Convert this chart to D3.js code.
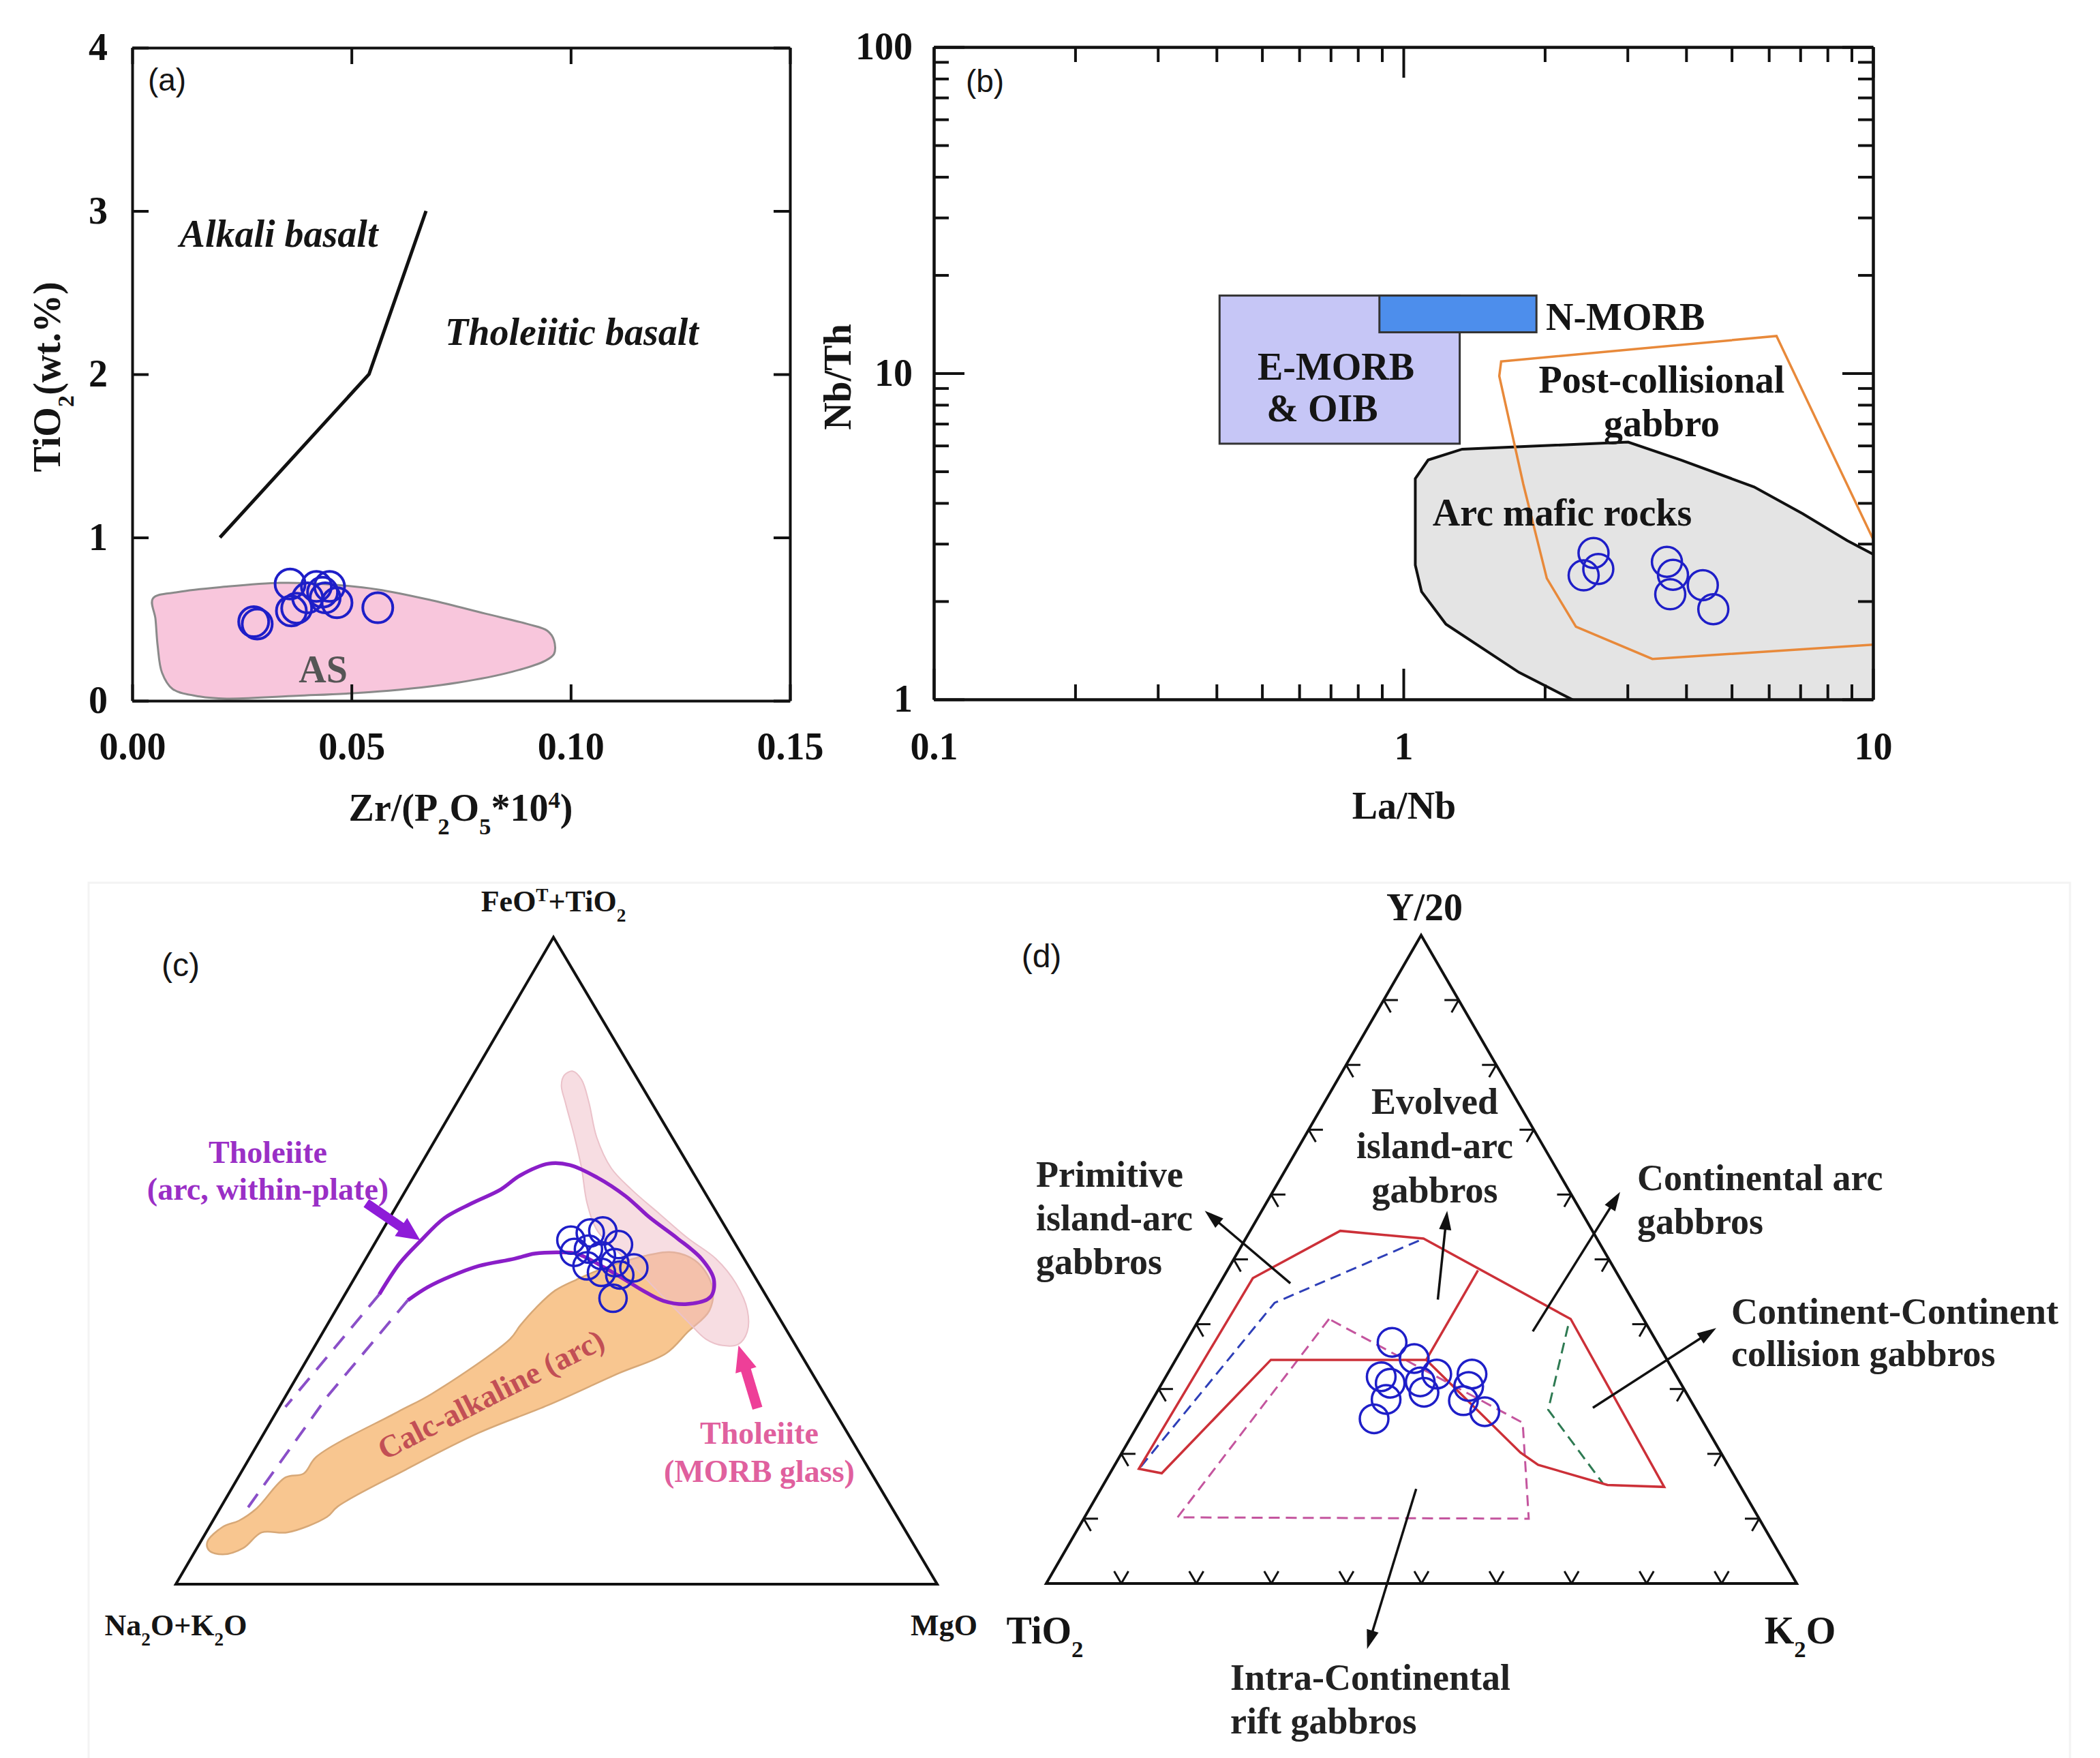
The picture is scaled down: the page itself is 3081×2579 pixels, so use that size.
<!DOCTYPE html>
<html><head><meta charset="utf-8">
<script src="https://cdn.jsdelivr.net/npm/d3@7"></script>
<style>body{margin:0;background:#fff} svg{display:block}</style>
</head><body>
<svg id="chart" width="3081" height="2579"></svg>
<script>
// ---------------- DATA ----------------
// (a) TiO2 vs Zr/(P2O5*10^4)
const aXTicks = [0, 0.05, 0.10, 0.15];
const aYTicks = [0, 1, 2, 3, 4];
const aDivide = [[0.020, 1.0], [0.054, 2.0], [0.067, 3.0]];
const aAS = [[0.0047,0.626],[0.0105,0.666],[0.0215,0.699],[0.0338,0.722],[0.0437,0.715],[0.0559,0.682],
  [0.0682,0.616],[0.0805,0.534],[0.0904,0.468],[0.0947,0.428],[0.0962,0.369],[0.0962,0.287],[0.0941,0.244],
  [0.0867,0.178],[0.0744,0.112],[0.0559,0.056],[0.0375,0.030],[0.0215,0.013],[0.0154,0.026],[0.0092,0.072],
  [0.0068,0.171],[0.0058,0.336],[0.0053,0.501]];
const aSamples = [[0.0277,0.484],[0.0285,0.470],[0.0360,0.715],[0.0363,0.550],[0.0375,0.567],[0.0400,0.630],
  [0.0420,0.700],[0.0434,0.665],[0.0450,0.700],[0.0440,0.630],[0.0467,0.600],[0.0560,0.570]];

// (b) Nb/Th vs La/Nb (log-log)
const bMajorX = [0.1, 1, 10];
const bMinorX = [0.2,0.3,0.4,0.5,0.6,0.7,0.8,0.9,2,3,4,5,6,7,8,9];
const bMajorY = [1, 10, 100];
const bMinorY = [2,3,4,5,6,7,8,9,20,30,40,50,60,70,80,90];
const bEMORB = [[0.406, 6.08], [1.318, 17.3]];
const bNMORB = [[0.889, 13.35], [1.92, 17.3]];
const bPostColl = [[1.615,10.87],[6.23,13.0],[10.6,2.6],[10.6,1.48],[3.39,1.33],[2.33,1.67],[2.02,2.35],[1.80,4.57],[1.60,9.8]];
const bArc = [[2.45,0.95],[1.762,1.21],[1.232,1.70],[1.093,2.14],[1.06,2.58],[1.06,4.75],[1.129,5.42],[1.334,5.85],
  [3.01,6.15],[3.9,5.42],[5.58,4.48],[7.08,3.71],[8.81,3.07],[10.8,2.63],[10.8,0.9],[2.45,0.9]];
const bSamples = [[2.54,2.81],[2.60,2.51],[2.42,2.40],[3.64,2.64],[3.75,2.41],[3.70,2.10],[4.34,2.24],[4.57,1.89]];

// (c) ternary: [FeOT+TiO2 %, MgO %]; Na2O+K2O = 100 - both
const cMORB = [[78.7,12.0],[79.3,12.8],[78.0,14.6],[74.5,17.3],[69.1,21.0],[64.3,25.3],[61.0,29.6],[57.2,35.2],
  [53.5,40.7],[50.3,46.0],[46.5,50.5],[42.3,54.1],[39.0,55.7],[37.1,55.5],[36.9,53.5],[37.9,50.8],[40.6,47.1],
  [44.4,42.0],[48.2,37.0],[51.3,32.7],[54.6,28.3],[58.9,24.8],[64.3,21.4],[69.1,18.1],[74.5,14.2],[77.1,12.4]];
const cCalc = [[6.5,0.9],[8.9,1.8],[9.8,3.4],[11.7,4.8],[16.5,6.2],[17.1,8.3],[19.7,8.7],[26.6,15.9],[29.4,19.0],
  [37.9,25.1],[40.0,25.4],[42.7,26.1],[45.4,27.3],[47.1,29.3],[48.7,31.7],[50.8,36.6],[51.3,40.0],[49.7,43.9],
  [45.9,47.7],[42.3,49.1],[39.0,47.9],[35.7,46.7],[32.6,42.0],[27.7,35.2],[23.4,28.2],[17.7,21.4],[12.0,15.3],
  [10.4,14.7],[8.0,10.7],[8.0,7.3],[5.6,6.1],[4.6,3.9],[5.2,1.8]];
const cThol = [[44.8,4.5],[49.6,4.8],[53.0,5.8],[56.6,7.2],[58.9,9.7],[61.0,12.4],[63.2,13.9],[65.0,16.7],
  [64.8,19.6],[62.9,24.1],[60.0,29.3],[56.7,34.1],[53.5,39.3],[50.3,44.1],[47.1,47.3],[44.4,48.2],[43.3,45.7],
  [43.8,42.3],[45.4,38.8],[47.1,35.6],[49.2,31.5],[51.1,27.3],[51.3,24.9],[51.1,21.8],[50.3,19.5],[49.2,15.4],
  [47.6,12.5],[45.9,10.3],[43.9,8.7]];
const cTholDashUpper = [[44.8,4.5],[27.4,0.8]];
const cTholDashLower = [[43.9,8.7],[29.0,5.5],[11.0,3.5]];
const cArrowThol = [[58.9,-4.2],[53.2,5.7]];
const cArrowMORB = [[27.2,62.9],[36.9,55.6]];
const cSamples = [[53.2,25.5],[54.3,27.5],[54.6,29.0],[52.5,32.1],[51.3,26.9],[51.8,28.5],[50.8,30.7],
  [49.7,33.0],[48.9,35.9],[49.2,29.6],[48.2,32.0],[47.8,34.6],[44.2,35.5]];

// (d) ternary: [Y/20 %, K2O %]; TiO2 = 100 - both
const dTicks = [10,20,30,40,50,60,70,80,90];
const dOuter = [[17.7,3.5],[47.1,4.0],[54.4,12.0],[53.2,23.7],[40.8,49.5],[14.9,74.9],[15.2,67.2],[18.3,56.4],
  [20.2,53.1],[34.5,33.4],[34.5,12.7],[17.0,6.9]];
const dInner = [[48.3,33.4],[34.5,33.4]];
const dPrimitive = [[18.0,3.6],[43.3,8.8],[53.2,23.7]];
const dCollision = [[39.7,49.7],[26.8,53.5],[15.5,66.4]];
const dRift = [[40.8,17.3],[10.2,12.4],[10.0,59.3],[24.8,51.1],[25.7,49.2]];
const dSamples = [[37.2,27.5],[34.7,31.7],[31.9,28.7],[30.9,30.4],[31.1,34.3],[32.3,35.9],[29.5,35.6],
  [32.3,40.6],[30.4,41.1],[28.2,41.5],[26.5,45.2],[28.4,31.1],[25.4,31.0]];
const dArrows = [
  [[46.3,9.4],[57.5,-7.6]],
  [[43.8,30.3],[57.5,24.7]],
  [[38.9,45.4],[60.4,46.3]],
  [[27.1,59.3],[39.4,69.6]],
  [[14.6,42.0],[-10.1,47.8]]
];

// ---------------- RENDER ----------------
const svg = d3.select("#chart");
svg.append("rect").attr("width",3081).attr("height",2579).attr("fill","#fff");
// faint frame around the lower pair of panels
svg.append("rect").attr("x",130).attr("y",1295).attr("width",2907).attr("height",1320)
  .attr("fill","none").attr("stroke","#f3f3f3").attr("stroke-width",3);
const SERIF = "'Liberation Serif','Times New Roman',serif";
const SANS = "'Liberation Sans',Arial,sans-serif";
const PT = "#1e1ec8";

function label(g, x, y, parts, o = {}) {
  const t = g.append("text").attr("x", x).attr("y", y).attr("dy", "0.35em")
    .attr("font-family", o.family || SERIF).attr("font-size", o.size || 56)
    .attr("font-weight", o.weight || "bold").attr("font-style", o.style || "normal")
    .attr("fill", o.color || "#151515").attr("text-anchor", o.anchor || "middle");
  if (o.rotate != null) t.attr("transform", `rotate(${o.rotate},${x},${y})`);
  (typeof parts === "string" ? [[parts, ""]] : parts).forEach(([s, k]) => {
    const sp = t.append("tspan").text(s);
    if (k === "sub") sp.attr("baseline-shift", "sub").attr("font-size", "62%");
    if (k === "sup") sp.attr("baseline-shift", "super").attr("font-size", "62%");
  });
  return t;
}
function arrow(g, p0, p1, o) {
  const dx = p1[0]-p0[0], dy = p1[1]-p0[1], L = Math.hypot(dx, dy), ux = dx/L, uy = dy/L;
  const bx = p1[0]-ux*o.head, by = p1[1]-uy*o.head;
  g.append("line").attr("x1", p0[0]).attr("y1", p0[1]).attr("x2", bx+ux*2).attr("y2", by+uy*2)
    .attr("stroke", o.color).attr("stroke-width", o.shaft);
  g.append("path").attr("d", `M${p1[0]},${p1[1]}L${bx-uy*o.hw},${by+ux*o.hw}L${bx+uy*o.hw},${by-ux*o.hw}Z`)
    .attr("fill", o.color);
}
function styleAxis(g, size) {
  g.selectAll("path.domain").attr("stroke", "#111").attr("stroke-width", 4);
  g.selectAll(".tick line").attr("stroke", "#111").attr("stroke-width", 4);
  g.attr("font-family", SERIF).attr("font-size", size || 56).attr("font-weight", "bold");
  g.selectAll(".tick text").attr("fill", "#111");
}

// ===== Panel (a) =====
const gA = svg.append("g");
const ax = d3.scaleLinear([0, 0.15], [194, 1159]);
const ay = d3.scaleLinear([0, 4], [1028, 70]);
gA.append("path").datum(aAS)
  .attr("d", d3.line().x(d => ax(d[0])).y(d => ay(d[1])).curve(d3.curveCatmullRomClosed.alpha(0.5)))
  .attr("fill", "#f8c6dc").attr("stroke", "#8a8a8a").attr("stroke-width", 3);
gA.append("path").datum(aDivide)
  .attr("d", d3.line().x(d => ax(d[0])).y(d => ay(d[1])))
  .attr("fill", "none").attr("stroke", "#111").attr("stroke-width", 5);
gA.selectAll("circle").data(aSamples).join("circle")
  .attr("cx", d => ax(d[0])).attr("cy", d => ay(d[1])).attr("r", 22)
  .attr("fill", "none").attr("stroke", PT).attr("stroke-width", 4);
styleAxis(gA.append("g").attr("transform", "translate(0,1028)")
  .call(d3.axisBottom(ax).tickValues(aXTicks).tickFormat(d3.format(".2f")).tickSize(-24).tickSizeOuter(0).tickPadding(46)));
styleAxis(gA.append("g").attr("transform", "translate(0,70)")
  .call(d3.axisTop(ax).tickValues(aXTicks).tickFormat("").tickSize(-24).tickSizeOuter(0)));
styleAxis(gA.append("g").attr("transform", "translate(194,0)")
  .call(d3.axisLeft(ay).tickValues(aYTicks).tickFormat(d3.format("d")).tickSize(-24).tickSizeOuter(0).tickPadding(36)));
styleAxis(gA.append("g").attr("transform", "translate(1159,0)")
  .call(d3.axisRight(ay).tickValues(aYTicks).tickFormat("").tickSize(-24).tickSizeOuter(0)));
label(gA, 245, 117, "(a)", {family: SANS, weight: "normal", size: 46});
label(gA, 409, 342, "Alkali basalt", {style: "italic"});
label(gA, 839, 486, "Tholeiitic basalt", {style: "italic"});
label(gA, 474, 981, "AS", {color: "#555"});
label(gA, 676, 1184, [["Zr/(P",""],["2","sub"],["O",""],["5","sub"],["*10",""],["4","sup"],[")",""]]);
label(gA, 68, 553, [["TiO",""],["2","sub"],["(wt.%)",""]], {rotate: -90});

// ===== Panel (b) =====
const gB = svg.append("g");
const bx = d3.scaleLog([0.1, 10], [1370, 2748]);
const by = d3.scaleLog([1, 100], [1026, 69]);
svg.append("defs").append("clipPath").attr("id", "clipB").append("rect")
  .attr("x", 1370).attr("y", 69).attr("width", 2748-1370).attr("height", 1026-69);
const gBc = gB.append("g").attr("clip-path", "url(#clipB)");
const lineB = d3.line().x(d => bx(d[0])).y(d => by(d[1]));
gBc.append("path").datum(bArc).attr("d", lineB.curve(d3.curveLinearClosed))
  .attr("fill", "#e4e4e4").attr("stroke", "#111").attr("stroke-width", 4);
gBc.append("path").datum(bPostColl).attr("d", lineB.curve(d3.curveLinearClosed))
  .attr("fill", "none").attr("stroke", "#e8893a").attr("stroke-width", 3.5);
[[bEMORB, "#c6c6f6"], [bNMORB, "#4d8eec"]].forEach(([r, c]) => {
  gBc.append("rect").attr("x", bx(r[0][0])).attr("y", by(r[1][1]))
    .attr("width", bx(r[1][0]) - bx(r[0][0])).attr("height", by(r[0][1]) - by(r[1][1]))
    .attr("fill", c).attr("stroke", "#333").attr("stroke-width", 3);
});
gBc.selectAll("circle").data(bSamples).join("circle")
  .attr("cx", d => bx(d[0])).attr("cy", d => by(d[1])).attr("r", 22)
  .attr("fill", "none").attr("stroke", PT).attr("stroke-width", 3.5);
const fmtB = d => d3.format("~g")(d);
styleAxis(gB.append("g").attr("transform", "translate(0,1026)")
  .call(d3.axisBottom(bx).tickValues(bMajorX).tickFormat(fmtB).tickSize(-45).tickSizeOuter(0).tickPadding(48)));
styleAxis(gB.append("g").attr("transform", "translate(0,1026)")
  .call(d3.axisBottom(bx).tickValues(bMinorX).tickFormat("").tickSize(-22).tickSizeOuter(0)));
styleAxis(gB.append("g").attr("transform", "translate(0,69)")
  .call(d3.axisTop(bx).tickValues(bMajorX).tickFormat("").tickSize(-45).tickSizeOuter(0)));
styleAxis(gB.append("g").attr("transform", "translate(0,69)")
  .call(d3.axisTop(bx).tickValues(bMinorX).tickFormat("").tickSize(-22).tickSizeOuter(0)));
styleAxis(gB.append("g").attr("transform", "translate(1370,0)")
  .call(d3.axisLeft(by).tickValues(bMajorY).tickFormat(fmtB).tickSize(-45).tickSizeOuter(0).tickPadding(31)));
styleAxis(gB.append("g").attr("transform", "translate(1370,0)")
  .call(d3.axisLeft(by).tickValues(bMinorY).tickFormat("").tickSize(-22).tickSizeOuter(0)));
styleAxis(gB.append("g").attr("transform", "translate(2748,0)")
  .call(d3.axisRight(by).tickValues(bMajorY).tickFormat("").tickSize(-45).tickSizeOuter(0)));
styleAxis(gB.append("g").attr("transform", "translate(2748,0)")
  .call(d3.axisRight(by).tickValues(bMinorY).tickFormat("").tickSize(-22).tickSizeOuter(0)));
label(gB, 1445, 119, "(b)", {family: SANS, weight: "normal", size: 46});
label(gB, 2268, 464, "N-MORB", {anchor: "start"});
label(gB, 1960, 537, "E-MORB");
label(gB, 1940, 598, "& OIB");
label(gB, 2438, 556, "Post-collisional");
label(gB, 2438, 620, "gabbro");
label(gB, 2292, 751, "Arc mafic rocks");
label(gB, 2060, 1181, "La/Nb");
label(gB, 1228, 553, "Nb/Th", {rotate: -90});

// ===== ternary helper =====
function ternary(A, B, C) {
  const ty = d3.scaleLinear([0, 100], [B[1], A[1]]);
  const rx = d3.scaleLinear([0, 100], [0, C[0] - B[0]]);
  const tx = d3.scaleLinear([0, 100], [0, A[0] - B[0]]);
  return ([top, right]) => [B[0] + rx(right) + tx(top), ty(top)];
}

// ===== Panel (c) =====
const gC = svg.append("g");
const pc = ternary([812, 1375], [258, 2324], [1375, 2324]);
const lineC = d3.line().x(d => pc(d)[0]).y(d => pc(d)[1]);
gC.append("path").datum([[100,0],[0,0],[0,100]]).attr("d", lineC.curve(d3.curveLinearClosed))
  .attr("fill", "none").attr("stroke", "#111").attr("stroke-width", 4).attr("stroke-linejoin", "miter");
gC.append("path").datum(cCalc).attr("d", lineC.curve(d3.curveCatmullRomClosed.alpha(0.5)))
  .attr("fill", "#f8c690").attr("stroke", "#d7a877").attr("stroke-width", 2.5);
gC.append("path").datum(cMORB).attr("d", lineC.curve(d3.curveCatmullRomClosed.alpha(0.5)))
  .attr("fill", "#f0bcc6").attr("fill-opacity", 0.5).attr("stroke", "#ebc2ca").attr("stroke-width", 2);
gC.append("path").datum(cThol).attr("d", lineC.curve(d3.curveCatmullRom.alpha(0.5)))
  .attr("fill", "none").attr("stroke", "#8a1ec8").attr("stroke-width", 5.5);
[cTholDashUpper, cTholDashLower].forEach(dd => gC.append("path").datum(dd)
  .attr("d", lineC.curve(d3.curveLinear)).attr("fill", "none").attr("stroke", "#8a4fc8")
  .attr("stroke-width", 4).attr("stroke-dasharray", "24,16"));
arrow(gC, pc(cArrowThol[0]), pc(cArrowThol[1]), {color: "#8e1cd8", shaft: 14, head: 34, hw: 16});
arrow(gC, pc(cArrowMORB[0]), pc(cArrowMORB[1]), {color: "#ee3f98", shaft: 15, head: 38, hw: 16});
gC.selectAll("circle").data(cSamples).join("circle")
  .attr("cx", d => pc(d)[0]).attr("cy", d => pc(d)[1]).attr("r", 20)
  .attr("fill", "none").attr("stroke", PT).attr("stroke-width", 3.5);
label(gC, 265, 1415, "(c)", {family: SANS, weight: "normal", size: 48});
label(gC, 812, 1322, [["FeO",""],["T","sup"],["+TiO",""],["2","sub"]], {size: 44});
label(gC, 258, 2384, [["Na",""],["2","sub"],["O+K",""],["2","sub"],["O",""]], {size: 44});
label(gC, 1385, 2384, "MgO", {size: 44});
label(gC, 393, 1690, "Tholeiite", {size: 46, color: "#9a2fc6"});
label(gC, 393, 1744, "(arc, within-plate)", {size: 46, color: "#9a2fc6"});
label(gC, 720, 2045, "Calc-alkaline (arc)", {size: 46, color: "#c24f55", rotate: -27});
label(gC, 1114, 2102, "Tholeiite", {size: 46, color: "#e0609e"});
label(gC, 1114, 2158, "(MORB glass)", {size: 46, color: "#e0609e"});

// ===== Panel (d) =====
const gD = svg.append("g");
const pd = ternary([2085, 1372], [1535, 2323], [2636, 2323]);
const lineD = d3.line().x(d => pd(d)[0]).y(d => pd(d)[1]);
gD.append("path").datum([[100,0],[0,0],[0,100]]).attr("d", lineD.curve(d3.curveLinearClosed))
  .attr("fill", "none").attr("stroke", "#111").attr("stroke-width", 4);
const tk = 1.9;
const tickSegs = [];
dTicks.forEach(v => {
  tickSegs.push([[v,0],[v,tk]], [[v,0],[v-tk,tk]]);               // left edge
  tickSegs.push([[v,100-v],[v,100-v-tk]], [[v,100-v],[v-tk,100-v]]); // right edge
  tickSegs.push([[0,v],[tk,v-tk]], [[0,v],[tk,v]]);               // bottom edge
});
gD.selectAll("path.tk").data(tickSegs).join("path").attr("class", "tk")
  .attr("d", lineD.curve(d3.curveLinear)).attr("stroke", "#111").attr("stroke-width", 3).attr("fill", "none");
gD.append("path").datum(dRift).attr("d", lineD.curve(d3.curveLinearClosed))
  .attr("fill", "none").attr("stroke", "#c4559e").attr("stroke-width", 3).attr("stroke-dasharray", "16,9");
gD.append("path").datum(dPrimitive).attr("d", lineD.curve(d3.curveLinear))
  .attr("fill", "none").attr("stroke", "#2e3fb8").attr("stroke-width", 3).attr("stroke-dasharray", "16,9");
gD.append("path").datum(dCollision).attr("d", lineD.curve(d3.curveLinear))
  .attr("fill", "none").attr("stroke", "#2e7a52").attr("stroke-width", 3).attr("stroke-dasharray", "16,9");
gD.append("path").datum(dOuter).attr("d", lineD.curve(d3.curveLinearClosed))
  .attr("fill", "none").attr("stroke", "#cc3038").attr("stroke-width", 3.5);
gD.append("path").datum(dInner).attr("d", lineD.curve(d3.curveLinear))
  .attr("fill", "none").attr("stroke", "#cc3038").attr("stroke-width", 3.5);
gD.selectAll("circle").data(dSamples).join("circle")
  .attr("cx", d => pd(d)[0]).attr("cy", d => pd(d)[1]).attr("r", 21)
  .attr("fill", "none").attr("stroke", PT).attr("stroke-width", 3.5);
dArrows.forEach(a => arrow(gD, pd(a[0]), pd(a[1]), {color: "#111", shaft: 3.5, head: 28, hw: 9}));
label(gD, 1528, 1402, "(d)", {family: SANS, weight: "normal", size: 48});
label(gD, 2090, 1330, "Y/20");
label(gD, 1533, 2391, [["TiO",""],["2","sub"]]);
label(gD, 2641, 2391, [["K",""],["2","sub"],["O",""]]);
const dl = {size: 54, color: "#222"};
label(gD, 2105, 1615, "Evolved", dl);
label(gD, 2105, 1680, "island-arc", dl);
label(gD, 2105, 1745, "gabbros", dl);
label(gD, 1520, 1722, "Primitive", {...dl, anchor: "start"});
label(gD, 1520, 1786, "island-arc", {...dl, anchor: "start"});
label(gD, 1520, 1850, "gabbros", {...dl, anchor: "start"});
label(gD, 2402, 1727, "Continental arc", {...dl, anchor: "start"});
label(gD, 2402, 1791, "gabbros", {...dl, anchor: "start"});
label(gD, 2540, 1923, "Continent-Continent", {...dl, anchor: "start"});
label(gD, 2540, 1985, "collision gabbros", {...dl, anchor: "start"});
label(gD, 1805, 2460, "Intra-Continental", {...dl, anchor: "start"});
label(gD, 1805, 2524, "rift gabbros", {...dl, anchor: "start"});
</script>
</body></html>
